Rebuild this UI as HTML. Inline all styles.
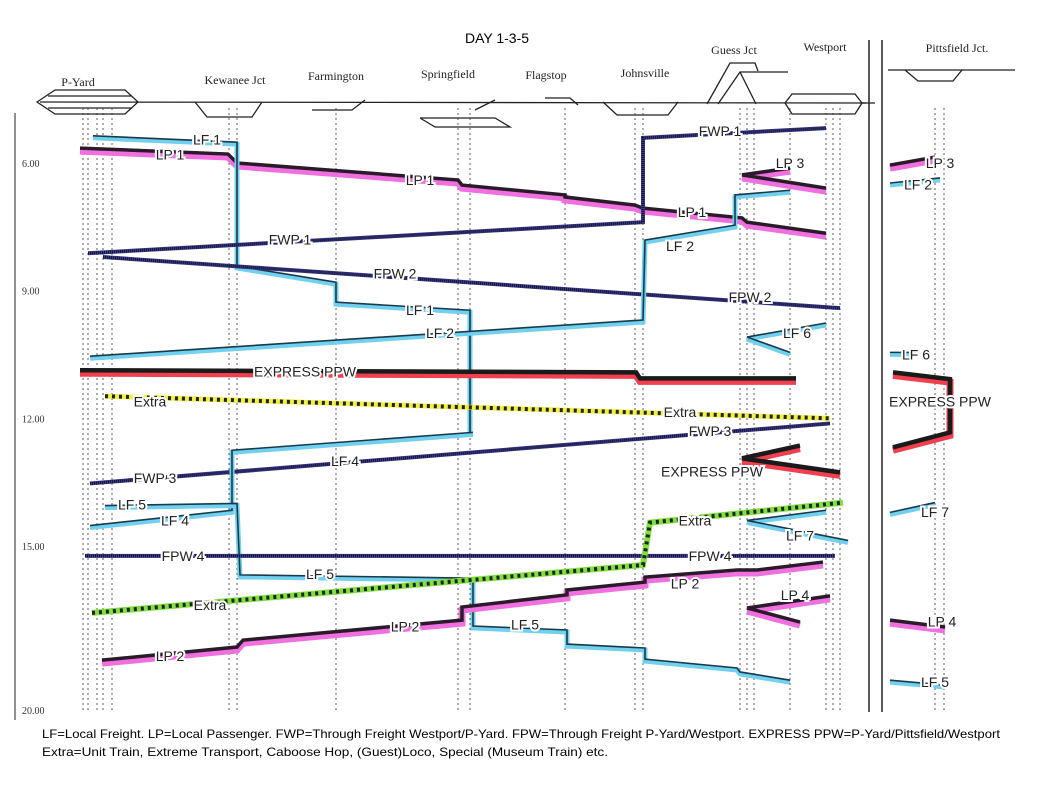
<!DOCTYPE html>
<html><head><meta charset="utf-8"><style>
html,body{margin:0;padding:0;background:#fff;}
svg{display:block;font-family:"Liberation Sans",sans-serif;}
.st{font-family:"Liberation Serif",serif;font-size:12px;fill:#222;}
.lbl{font-size:14px;fill:#222;stroke:#fff;stroke-width:4px;paint-order:stroke;}
</style></head><body>
<svg id="chart" width="1052" height="795" viewBox="0 0 1052 795">
<text x="497" y="43" font-size="14" text-anchor="middle">DAY 1-3-5</text>
<g fill="none" stroke="#222" stroke-width="1.3">
<line x1="40" y1="102" x2="875" y2="103"/>
<polygon points="37,102 55,90 125,90 138,102 125,114 55,114" />
<line x1="48" y1="96" x2="132" y2="96"/><line x1="48" y1="108" x2="132" y2="108"/>
<polyline points="195,102 207,117 252,117 262,102"/>
<polyline points="312,110 352,110 365,100"/>
<polyline points="420,118 435,127 510,127 495,118 420,118"/>
<line x1="475" y1="110" x2="495" y2="100"/>
<polyline points="545,98 570,98 578,105"/>
<polyline points="603,102 617,115 668,115 678,102"/>
<polyline points="707,104 730,63 755,63 758,71"/>
<polyline points="718,104 740,72 788,72 788,72"/>
<line x1="740" y1="72" x2="756" y2="104"/>
<polygon points="785,103 792,94 855,94 862,103 855,114 792,114"/>
<line x1="862" y1="103" x2="866" y2="103"/>
<line x1="888" y1="70" x2="1015" y2="70"/>
<polyline points="905,70 918,81 953,81 962,70"/>
</g>
<g>
<text class="st" x="78" y="86" text-anchor="middle">P-Yard</text>
<text class="st" x="235" y="84" text-anchor="middle">Kewanee  Jct</text>
<text class="st" x="336" y="80" text-anchor="middle">Farmington</text>
<text class="st" x="448" y="78" text-anchor="middle">Springfield</text>
<text class="st" x="546" y="79" text-anchor="middle">Flagstop</text>
<text class="st" x="645" y="77" text-anchor="middle">Johnsville</text>
<text class="st" x="734" y="54" text-anchor="middle">Guess Jct</text>
<text class="st" x="825" y="51" text-anchor="middle">Westport</text>
<text class="st" x="957" y="52" text-anchor="middle">Pittsfield Jct.</text>
</g>
<line x1="15" y1="113" x2="15" y2="720" stroke="#222" stroke-width="1"/>
<line x1="869" y1="40" x2="869" y2="712" stroke="#222" stroke-width="1.5"/>
<line x1="882" y1="40" x2="882" y2="712" stroke="#222" stroke-width="1.5"/>
<g id="grid"></g><g id="axis"></g><g id="trains"></g><g id="labels"></g>
<text x="42" y="738" font-size="12" textLength="958" lengthAdjust="spacingAndGlyphs">LF=Local Freight. LP=Local Passenger. FWP=Through Freight Westport/P-Yard. FPW=Through Freight P-Yard/Westport. EXPRESS PPW=P-Yard/Pittsfield/Westport</text>
<text x="42" y="756" font-size="12" textLength="566" lengthAdjust="spacingAndGlyphs">Extra=Unit Train, Extreme Transport, Caboose Hop, (Guest)Loco, Special (Museum Train) etc.</text>
</svg>
<script>
const tickValues = [6, 9, 12, 15, 20];
const tickLabels = ["6.00", "9.00", "12.00", "15.00", "20.00"];
const trackPositions = [3,8,17,23,32,149,157,256,378,390,485,555,563,660,667,674,710,746,753,760,855,864];

const LP1_d = [0,148,157,378,382,485,485,555,563,662,667,746];
const LP1_t = [5.65,5.79,6.0,6.40,6.52,6.75,6.80,6.99,7.06,7.29,7.39,7.65];
const LF1_d = [13,157,157,256,256,390,390];
const LF1_t = [5.36,5.51,8.42,8.80,9.27,9.46,12.33];
const FWP1_d = [8,563,563,746];
const FWP1_t = [8.12,7.39,5.41,5.18];
const FPW2_d = [23,760];
const FPW2_t = [8.21,9.41];
const LF2_d = [10,563,565,655,655,710];
const LF2_t = [10.54,9.69,7.81,7.46,6.75,6.64];
const LP3a_d = [662,710]; const LP3a_t = [6.28,6.12];
const LP3b_d = [662,746]; const LP3b_t = [6.28,6.59];
const LP3p_d = [810,855]; const LP3p_t = [6.05,5.86];
const LF2p_d = [810,860]; const LF2p_t = [6.47,6.35];
const LF6a_d = [667,746]; const LF6a_t = [10.09,9.76];
const LF6b_d = [667,710]; const LF6b_t = [10.09,10.45];
const LF6p_d = [810,835]; const LF6p_t = [10.45,10.45];
const EXP_d = [0,556,560,716]; const EXP_t = [10.87,10.92,11.06,11.06];
const EXPp_d = [813,870,870,813]; const EXPp_t = [10.92,11.08,12.33,12.68];
const EXPa_d = [662,720]; const EXPa_t = [12.94,12.64];
const EXPb_d = [662,760]; const EXPb_t = [12.94,13.27];
const XTR1_d = [25,750]; const XTR1_t = [11.48,12.0];
const FWP3_d = [10,750]; const FWP3_t = [13.53,12.12];
const LF4_d = [393,152,152,10]; const LF4_t = [12.33,12.75,14.16,14.52];
const LF5_d = [25,157,160,393,393,487,487,565,565,657,660,710];
const LF5_t = [14.05,14.0,15.88,15.98,17.44,17.56,17.99,18.11,18.45,18.72,18.84,19.09];
const LF5p_d = [810,865]; const LF5p_t = [19.09,19.24];
const FPW4_d = [5,755]; const FPW4_t = [15.30,15.30];
const XTR2_d = [12,563,570,763]; const XTR2_t = [17.04,15.58,14.45,13.98];
const LF7a_d = [667,746]; const LF7a_t = [14.40,14.16];
const LF7b_d = [667,768]; const LF7b_t = [14.40,14.87];
const LF7p_d = [810,855]; const LF7p_t = [14.21,13.98];
const LP2_d = [22,157,163,382,382,487,487,565,565,657,677,743];
const LP2_t = [18.48,18.08,17.87,17.26,16.86,16.49,16.34,16.10,15.95,15.73,15.73,15.49];
const LP4a_d = [667,750]; const LP4a_t = [16.89,16.52];
const LP4b_d = [667,720]; const LP4b_t = [16.89,17.32];
const LP4p_d = [810,865]; const LP4p_t = [17.26,17.47];

const NS = "http://www.w3.org/2000/svg";
const tDom = [6, 15, 20], tRng = [163, 546, 710];
function y(t){ if(t<=tDom[1]) return tRng[0]+(t-tDom[0])*(tRng[1]-tRng[0])/(tDom[1]-tDom[0]); return tRng[1]+(t-tDom[1])*(tRng[2]-tRng[1])/(tDom[2]-tDom[1]); }
function x(d){ return 80 + d; }
function mk(tag, parent, attrs){ const e=document.createElementNS(NS,tag); for(const k in attrs) e.setAttribute(k,attrs[k]); parent.appendChild(e); return e; }

const grid=document.getElementById('grid');
trackPositions.forEach(d=>{
  const l=mk('line',grid,{x1:x(d),x2:x(d),y1:108,y2:712,stroke:'#333','stroke-width':0.8,'stroke-dasharray':'2,3'});
  
  
});
const axis=document.getElementById('axis');
tickValues.forEach((v,i)=>{
  const tx=mk('text',axis,{x:22,y:y(v)+4,'font-size':10,'font-family':'Liberation Serif, serif',fill:'#333'});
  tx.textContent=tickLabels[i];
  
  
});

const styles={
  LP:[{stroke:'#f070e0',w:7,dx:0,dy:3},{stroke:'#2a1a2a',w:3.5}],
  LF:[{stroke:'#70d0f0',w:5,dx:0,dy:2},{stroke:'#1a3a4a',w:1.6}],
  FW:[{stroke:'#3a3a90',w:4},{stroke:'#15152e',w:3,dash:'1,1'}],
  EX:[{stroke:'#f04050',w:7,dx:0,dy:3},{stroke:'#1a1a1a',w:4.5}],
  XY:[{stroke:'#f0f040',w:5},{stroke:'#222',w:4,dash:'3,4'}],
  XG:[{stroke:'#80e040',w:6},{stroke:'#222',w:4,dash:'3,4'}]
};
const trains=document.getElementById('trains');
function draw(name,type,ds,ts){
  const g=mk('g',trains,{});
  
  
  styles[type].forEach(s=>{
    const pts=ds.map((d,i)=>(x(d)+(s.dx||0))+','+(y(ts[i])+(s.dy||0))).join(' ');
    const a={points:pts,fill:'none',stroke:s.stroke,'stroke-width':s.w,'stroke-linejoin':'miter'};
    if(s.dash) a['stroke-dasharray']=s.dash;
    mk('polyline',g,a);
  });
}
draw('lp1-line','LP',LP1_d,LP1_t);
draw('lf1-line','LF',LF1_d,LF1_t);
draw('fwp1-line','FW',FWP1_d,FWP1_t);
draw('fpw2-line','FW',FPW2_d,FPW2_t);
draw('lf2-line','LF',LF2_d,LF2_t);
draw('lp3-line-a','LP',LP3a_d,LP3a_t);
draw('lp3-line-b','LP',LP3b_d,LP3b_t);
draw('lp3-pittsfield','LP',LP3p_d,LP3p_t);
draw('lf2-pittsfield','LF',LF2p_d,LF2p_t);
draw('lf6-line-a','LF',LF6a_d,LF6a_t);
draw('lf6-line-b','LF',LF6b_d,LF6b_t);
draw('lf6-pittsfield','LF',LF6p_d,LF6p_t);
draw('express-line','EX',EXP_d,EXP_t);
draw('express-pittsfield','EX',EXPp_d,EXPp_t);
draw('express-line-a','EX',EXPa_d,EXPa_t);
draw('express-line-b','EX',EXPb_d,EXPb_t);
draw('extra-yellow-line','XY',XTR1_d,XTR1_t);
draw('fwp3-line','FW',FWP3_d,FWP3_t);
draw('lf4-line','LF',LF4_d,LF4_t);
draw('lf5-line','LF',LF5_d,LF5_t);
draw('lf5-pittsfield','LF',LF5p_d,LF5p_t);
draw('fpw4-line','FW',FPW4_d,FPW4_t);
draw('extra-green-line','XG',XTR2_d,XTR2_t);
draw('lf7-line-a','LF',LF7a_d,LF7a_t);
draw('lf7-line-b','LF',LF7b_d,LF7b_t);
draw('lf7-pittsfield','LF',LF7p_d,LF7p_t);
draw('lp2-line','LP',LP2_d,LP2_t);
draw('lp4-line-a','LP',LP4a_d,LP4a_t);
draw('lp4-line-b','LP',LP4b_d,LP4b_t);
draw('lp4-pittsfield','LP',LP4p_d,LP4p_t);

const labelText=["LF 1","LP 1","LP 1","LP 1","FWP 1","FWP 1","LP 3","LP 3","LF 2","LF 2","LF 2","FWP 1","FPW 2","FPW 2","LF 1","LF 6","LF 6","EXPRESS PPW","EXPRESS PPW","EXPRESS PPW","Extra","Extra","FWP 3","FWP 3","LF 4","LF 4","LF 5","LF 5","LF 5","LF 5","FPW 4","FPW 4","Extra","Extra","LF 7","LF 7","LP 2","LP 2","LP 2","LP 4","LP 4"];
const labelD=[127,90,340,612,210,640,710,860,360,600,838,210,315,670,340,717,836,225,860,632,70,600,75,630,95,265,52,240,445,855,103,630,130,615,720,855,90,325,605,715,862];
const labelT=[5.45,5.8,6.4,7.15,7.8,5.25,6.0,6.0,10.0,7.95,6.5,7.8,8.6,9.15,9.45,10.0,10.5,10.9,11.6,13.25,11.6,11.85,13.4,12.3,14.4,13.0,14.03,15.85,17.4,19.15,15.3,15.3,16.8,14.4,14.75,14.2,18.35,17.45,16.15,16.5,17.3];
const lab=document.getElementById('labels');
labelText.forEach((s,i)=>{
  const t=mk('text',lab,{x:x(labelD[i]),y:y(labelT[i])+5,'text-anchor':'middle',class:'lbl'});
  t.textContent=s;
  
  
});
</script>
</body></html>
